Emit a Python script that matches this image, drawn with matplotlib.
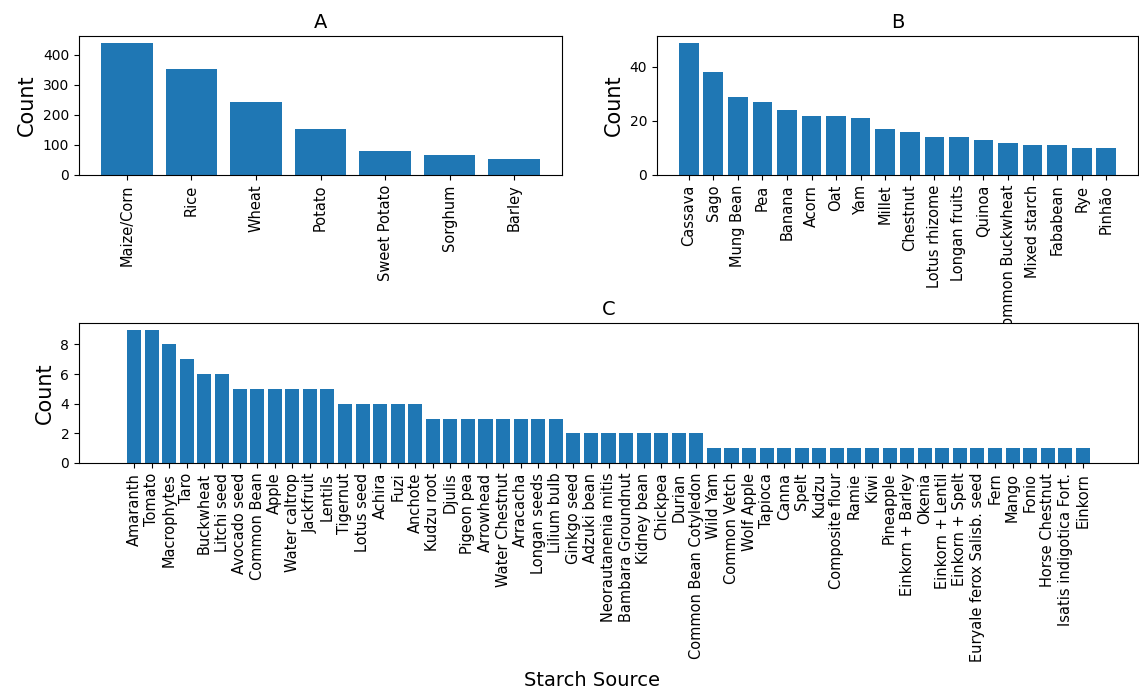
import matplotlib
matplotlib.use("Agg")
from matplotlib import pyplot as plt

# top 7 sources
major_names = ["Maize/Corn", "Rice", "Wheat", "Potato", "Sweet Potato", "Sorghum", "Barley"]
major_counts = [440, 352, 242, 154, 80, 65, 53]

# sources with 10-49 entries
mid_names = ["Cassava", "Sago", "Mung Bean", "Pea", "Banana", "Acorn", "Oat", "Yam",
             "Millet", "Chestnut", "Lotus rhizome", "Longan fruits", "Quinoa",
             "Common Buckwheat", "Mixed starch", "Fababean", "Rye", "Pinhão"]
mid_counts = [49, 38, 29, 27, 24, 22, 22, 21, 17, 16, 14, 14, 13, 12, 11, 11, 10, 10]

# everything else
minor_names = ["Amaranth", "Tomato", "Macrophytes", "Taro", "Buckwheat", "Litchi seed",
               "Avocado seed", "Common Bean", "Apple", "Water caltrop", "Jackfruit", "Lentils",
               "Tigernut", "Lotus seed", "Achira", "Fuzi", "Anchote",
               "Kudzu root", "Djulis", "Pigeon pea", "Arrowhead", "Water Chestnut", "Arracacha",
               "Longan seeds", "Lilium bulb",
               "Ginkgo seed", "Adzuki bean", "Neorautanenia mitis", "Bambara Groundnut",
               "Kidney bean", "Chickpea", "Durian", "Common Bean Cotyledon",
               "Wild Yam", "Common Vetch", "Wolf Apple", "Tapioca", "Canna", "Spelt", "Kudzu",
               "Composite flour", "Ramie", "Kiwi", "Pineapple", "Einkorn + Barley", "Okenia",
               "Einkorn + Lentil", "Einkorn + Spelt", "Euryale ferox Salisb. seed", "Fern",
               "Mango", "Fonio", "Horse Chestnut", "Isatis indigotica Fort.", "Einkorn"]
minor_counts = [9, 9, 8, 7, 6, 6,
                5, 5, 5, 5, 5, 5,
                4, 4, 4, 4, 4,
                3, 3, 3, 3, 3, 3, 3, 3,
                2, 2, 2, 2, 2, 2, 2, 2,
                1, 1, 1, 1, 1, 1, 1, 1, 1, 1, 1, 1, 1, 1, 1, 1, 1, 1, 1, 1, 1, 1]

W, H = 1139, 688
fig = plt.figure(figsize=(W / 100, H / 100), dpi=100)


def rect(x0, y0, x1, y1):
    # pixel box -> figure fraction
    return [x0 / W, 1 - y1 / H, (x1 - x0) / W, (y1 - y0) / H]


axA = fig.add_axes(rect(79, 36, 562, 175))
axB = fig.add_axes(rect(657, 36, 1138, 175))
axC = fig.add_axes(rect(79, 323, 1138, 463))

panels = [(axA, major_names, major_counts, "A"),
          (axB, mid_names, mid_counts, "B"),
          (axC, minor_names, minor_counts, "C")]

for ax, names, counts, title in panels:
    ax.bar(range(len(names)), counts, color="#1f77b4", width=0.8)
    ax.set_xticks(range(len(names)))
    ax.set_xticklabels(names, rotation=90, fontsize=10.5,
                       family=["DejaVu Sans Condensed", "DejaVu Sans"])
    ax.tick_params(axis="y", labelsize=10)
    ax.set_ylabel("Count", fontsize=15)
    ax.set_title(title, fontsize=14)

fig.text(592 / W, 1 - 680 / H, "Starch Source", fontsize=14, ha="center", va="center")

plt.savefig("out.png", dpi=100)
